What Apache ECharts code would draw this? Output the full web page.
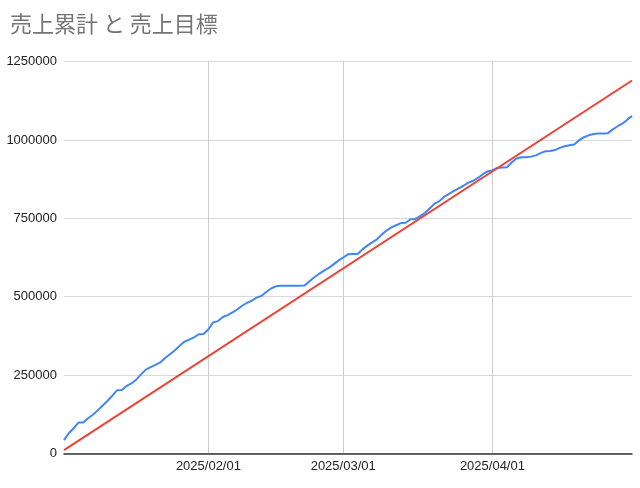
<!DOCTYPE html>
<html>
<head>
<meta charset="utf-8">
<script src="https://cdn.jsdelivr.net/npm/echarts@6/dist/echarts.min.js"></script>
<style>
html,body{margin:0;padding:0;background:#fff;}
#c{width:640px;height:488px;}
</style>
</head>
<body>
<div id="c"></div>
<script>
// Data
var titleText = '売上累計 と 売上目標';
var startDate = '2025-01-02';
var endDate = '2025-04-30';
var salesValues = [
  42000, 64000, 80000, 98000, 98000, 112000, 123000, 137000, 152000, 167000,
  183000, 201000, 202000, 215000, 223000, 235000, 252000, 267000, 275000, 282000,
  290000, 304000, 316000, 328000, 343000, 356000, 363000, 370000, 380000, 381000,
  396000, 418000, 422000, 435000, 441000, 450000, 459000, 471000, 480000, 487000,
  497000, 502000, 515000, 526000, 533000, 535000, 535000, 535000, 535000, 535000,
  536000, 549000, 562000, 573000, 583000, 592000, 603000, 615000, 625000, 635000,
  636000, 636000, 651000, 663000, 673000, 683000, 698000, 711000, 721000, 728000,
  735000, 736000, 747000, 748000, 757000, 768000, 782000, 797000, 805000, 819000,
  828000, 838000, 846000, 854000, 864000, 870000, 879000, 891000, 900000, 903000,
  911000, 912000, 913000, 928000, 941000, 945000, 945000, 947000, 951000, 958000,
  964000, 965000, 968000, 975000, 980000, 983000, 986000, 999000, 1009000, 1015000,
  1019000, 1021000, 1021000, 1022000, 1034000, 1044000, 1052000, 1065000, 1077000
];
var targetDates = ['2025-01-02', '2025-04-30'];
var targetValues = [10000, 1190000];
var xTickDates = ['2025-02-01', '2025-03-01', '2025-04-01'];
var yTicks = [0, 250000, 500000, 750000, 1000000, 1250000];

function parseDate(s) {
  var p = s.split('-');
  return new Date(+p[0], +p[1] - 1, +p[2]).getTime();
}
var t0 = parseDate(startDate);
var salesData = salesValues.map(function (v, i) {
  var d = new Date(t0);
  d.setDate(d.getDate() + i);
  return [d.getTime(), v];
});
var targetData = targetDates.map(function (s, i) { return [parseDate(s), targetValues[i]]; });
var xTicks = xTickDates.map(parseDate);

function fmtDate(v) {
  var d = new Date(v);
  var mm = ('0' + (d.getMonth() + 1)).slice(-2);
  var dd = ('0' + d.getDate()).slice(-2);
  return d.getFullYear() + '/' + mm + '/' + dd;
}

var chart = echarts.init(document.getElementById('c'), null, {renderer: 'canvas'});
chart.setOption({
  animation: false,
  backgroundColor: '#ffffff',
  title: {
    text: titleText,
    left: 5,
    top: 8,
    textStyle: {
      fontFamily: '"Noto Sans CJK JP", "Noto Sans", sans-serif',
      fontSize: 22,
      fontWeight: 'normal',
      color: '#757575'
    }
  },
  grid: {left: 64, right: 8, top: 61.7, bottom: 34.7, containLabel: false, outerBoundsMode: 'none'},
  xAxis: {
    type: 'value',
    min: parseDate(startDate),
    max: parseDate(endDate),
    scale: true,
    axisLine: {show: true, onZero: false, lineStyle: {color: '#333333', width: 1.5}},
    axisTick: {show: false, customValues: xTicks},
    axisLabel: {
      customValues: xTicks,
      formatter: fmtDate,
      color: '#222222',
      fontSize: 13,
      fontFamily: '"Liberation Sans", Arial, sans-serif',
      margin: 7
    },
    splitLine: {show: true, lineStyle: {color: '#cccccc', width: 1}}
  },
  yAxis: {
    type: 'value',
    min: yTicks[0],
    max: yTicks[yTicks.length - 1],
    interval: 250000,
    axisLine: {show: false},
    axisTick: {show: false},
    axisLabel: {
      formatter: function (v) { return String(v); },
      color: '#222222',
      fontSize: 13,
      fontFamily: '"Liberation Sans", Arial, sans-serif',
      margin: 7
    },
    splitLine: {show: true, lineStyle: {color: '#d9d9d9', width: 1}}
  },
  series: [
    {
      name: '売上累計',
      type: 'line',
      data: salesData,
      showSymbol: false,
      symbol: 'none',
      lineStyle: {color: '#4285f4', width: 2},
      z: 3
    },
    {
      name: '売上目標',
      type: 'line',
      data: targetData,
      showSymbol: false,
      symbol: 'none',
      lineStyle: {color: '#ea4335', width: 2},
      z: 4
    }
  ]
});
</script>
</body>
</html>
